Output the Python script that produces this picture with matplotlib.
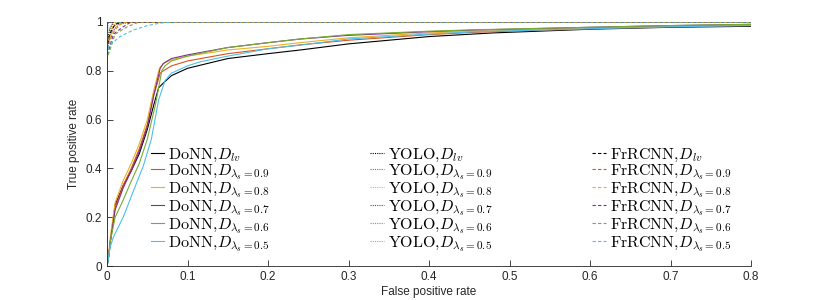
import matplotlib
matplotlib.use("Agg")
import matplotlib.pyplot as plt

plt.rcParams['font.family'] = ['Liberation Sans', 'DejaVu Sans']
plt.rcParams['mathtext.fontset'] = 'cm'

# MATLAB default colour order, black first for D_lv
colors = ['black', '#D95319', '#EDB120', '#7E2F8E', '#77AC30', '#4DBEEE']
subsets = ['lv', '0.9', '0.8', '0.7', '0.6', '0.5']

# DoNN curves (solid)
donn_fpr = [
    [0, 0.002, 0.004, 0.01, 0.02, 0.03, 0.04, 0.05, 0.058, 0.064, 0.07, 0.08, 0.1, 0.15, 0.2, 0.24, 0.3, 0.4, 0.48, 0.6, 0.7, 0.8],
    [0, 0.002, 0.004, 0.01, 0.02, 0.03, 0.04, 0.05, 0.058, 0.066, 0.07, 0.08, 0.1, 0.15, 0.2, 0.24, 0.3, 0.4, 0.46, 0.6, 0.7, 0.8],
    [0, 0.002, 0.004, 0.01, 0.02, 0.03, 0.04, 0.05, 0.058, 0.065, 0.07, 0.08, 0.1, 0.15, 0.2, 0.24, 0.3, 0.4, 0.46, 0.6, 0.7, 0.8],
    [0, 0.002, 0.004, 0.01, 0.02, 0.03, 0.04, 0.05, 0.058, 0.066, 0.07, 0.08, 0.1, 0.15, 0.2, 0.24, 0.3, 0.4, 0.46, 0.6, 0.7, 0.8],
    [0, 0.002, 0.004, 0.01, 0.02, 0.029, 0.04, 0.05, 0.06, 0.068, 0.072, 0.08, 0.1, 0.15, 0.2, 0.24, 0.3, 0.4, 0.46, 0.6, 0.7, 0.8],
    [0, 0.002, 0.004, 0.008, 0.02, 0.033, 0.045, 0.055, 0.064, 0.072, 0.08, 0.1, 0.116, 0.15, 0.2, 0.24, 0.3, 0.4, 0.46, 0.6, 0.7, 0.8],
]
donn_tpr = [
    [0, 0.04, 0.1, 0.25, 0.33, 0.39, 0.46, 0.56, 0.66, 0.73, 0.75, 0.78, 0.81, 0.85, 0.87, 0.885, 0.91, 0.94, 0.955, 0.97, 0.978, 0.982],
    [0, 0.04, 0.1, 0.24, 0.33, 0.4, 0.48, 0.58, 0.7, 0.79, 0.8, 0.82, 0.84, 0.87, 0.89, 0.906, 0.925, 0.948, 0.958, 0.972, 0.98, 0.985],
    [0, 0.05, 0.12, 0.26, 0.35, 0.42, 0.5, 0.6, 0.72, 0.81, 0.83, 0.845, 0.86, 0.885, 0.9, 0.915, 0.935, 0.955, 0.962, 0.975, 0.982, 0.988],
    [0, 0.04, 0.1, 0.23, 0.32, 0.39, 0.47, 0.57, 0.7, 0.81, 0.83, 0.85, 0.865, 0.895, 0.915, 0.93, 0.945, 0.96, 0.967, 0.978, 0.985, 0.99],
    [0, 0.04, 0.1, 0.2, 0.27, 0.34, 0.42, 0.52, 0.66, 0.8, 0.82, 0.84, 0.86, 0.895, 0.915, 0.93, 0.948, 0.962, 0.968, 0.978, 0.985, 0.99],
    [0, 0.04, 0.08, 0.12, 0.2, 0.31, 0.41, 0.52, 0.68, 0.76, 0.79, 0.82, 0.837, 0.86, 0.89, 0.905, 0.93, 0.95, 0.96, 0.972, 0.98, 0.985],
]

# YOLO curves (dotted)
yolo_fpr = [
    [0, 0, 0.003, 0.008, 0.8],
    [0, 0, 0.004, 0.012, 0.8],
    [0, 0, 0.005, 0.01, 0.8],
    [0, 0, 0.006, 0.015, 0.03, 0.8],
    [0, 0, 0.005, 0.015, 0.8],
    [0, 0, 0.002, 0.8],
]
yolo_tpr = [
    [0, 0.9, 0.97, 1, 1],
    [0, 0.88, 0.96, 1, 1],
    [0, 0.9, 0.97, 1, 1],
    [0, 0.89, 0.96, 0.99, 1, 1],
    [0, 0.9, 0.97, 1, 1],
    [0, 0.95, 1, 1],
]

# FrRCNN curves (dashed)
frcnn_fpr = [
    [0, 0, 0.003, 0.01, 0.02, 0.8],
    [0, 0, 0.004, 0.01, 0.02, 0.8],
    [0, 0, 0.004, 0.012, 0.022, 0.8],
    [0, 0, 0.008, 0.02, 0.03, 0.8],
    [0, 0, 0.01, 0.025, 0.04, 0.8],
    [0, 0, 0.002, 0.016, 0.033, 0.05, 0.066, 0.08, 0.8],
]
frcnn_tpr = [
    [0, 0.85, 0.95, 0.99, 1, 1],
    [0, 0.87, 0.93, 0.97, 1, 1],
    [0, 0.86, 0.94, 0.98, 1, 1],
    [0, 0.86, 0.95, 0.98, 1, 1],
    [0, 0.85, 0.95, 0.98, 1, 1],
    [0, 0.85, 0.9, 0.94, 0.967, 0.985, 0.995, 1, 1],
]


def label(model, s):
    if s == 'lv':
        return r'$\mathrm{%s},\!D_{lv}$' % model
    return r'$\mathrm{%s},\!D_{\lambda_s=%s}$' % (model, s)


fig = plt.figure(figsize=(8.3, 3.0), dpi=100)
ax = fig.add_axes([0.129, 0.113, 0.776, 0.814])

for i in range(6):
    ax.plot(donn_fpr[i], donn_tpr[i], '-', color=colors[i], lw=0.8, label=label('DoNN', subsets[i]))
for i in range(6):
    ax.plot(yolo_fpr[i], yolo_tpr[i], color=colors[i], lw=0.8, dashes=(1, 1), label=label('YOLO', subsets[i]))
for i in range(6):
    ax.plot(frcnn_fpr[i], frcnn_tpr[i], color=colors[i], lw=0.8, dashes=(3, 2), label=label('FrRCNN', subsets[i]))

ax.set_xlim(0, 0.8)
ax.set_ylim(0, 1)
ax.set_xticks([0, 0.1, 0.2, 0.3, 0.4, 0.5, 0.6, 0.7, 0.8])
ax.set_xticklabels(['0', '0.1', '0.2', '0.3', '0.4', '0.5', '0.6', '0.7', '0.8'])
ax.set_yticks([0, 0.2, 0.4, 0.6, 0.8, 1])
ax.set_yticklabels(['0', '0.2', '0.4', '0.6', '0.8', '1'])
ax.spines['top'].set_visible(False)
ax.spines['right'].set_visible(False)
for s in ['left', 'bottom']:
    ax.spines[s].set_color('#262626')
    ax.spines[s].set_linewidth(0.6)
ax.tick_params(direction='in', length=4, width=0.6, colors='#262626', labelsize=8.5)
ax.set_xlabel('False positive rate', fontsize=8.5, color='#262626', labelpad=2)
ax.set_ylabel('True positive rate', fontsize=8.5, color='#262626', labelpad=4)

ax.legend(loc='upper left', bbox_to_anchor=(0.068, 0.49), ncol=3, frameon=False,
          fontsize=11.5, handlelength=0.85, handletextpad=0.25, columnspacing=6.25,
          labelspacing=-0.1, borderpad=0, borderaxespad=0)

fig.savefig('out.png', dpi=100)
